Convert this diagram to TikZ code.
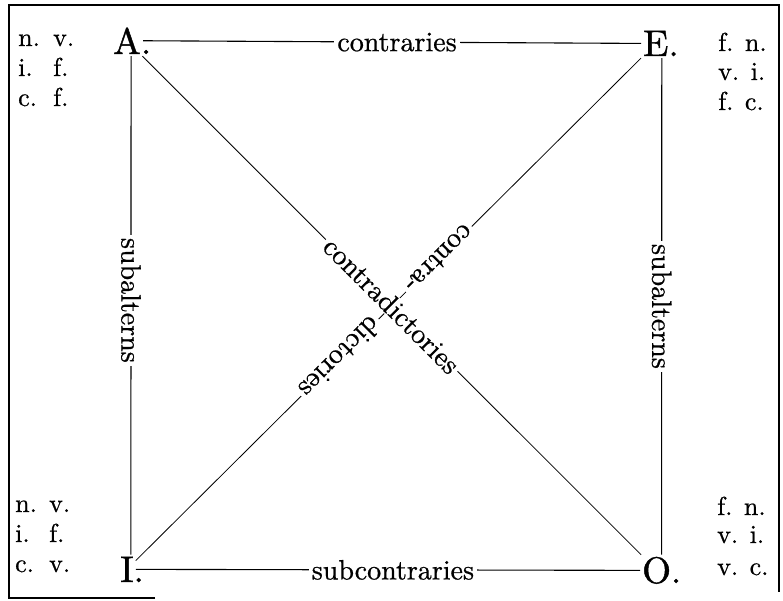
\documentclass[tikz,border=0pt]{standalone}
\usepackage{fontspec}
\newfontfamily\lmten{lmroman10-regular.otf}[FakeBold=0.7]
\newfontfamily\lmbig{lmroman10-regular.otf}[FakeBold=1.2]
\begin{document}
\begin{tikzpicture}[x=1pt,y=-1pt,
  big/.style={font=\lmbig\fontsize{37}{40}\selectfont, anchor=base west, inner sep=2pt},
  side/.style={font=\lmten\fontsize{26}{30}\selectfont, anchor=base west, inner sep=0pt},
  lbl/.style={font=\lmten\fontsize{28}{30}\selectfont, fill=white, inner xsep=3pt, inner ysep=1pt},
  edge/.style={line width=1.1pt},
  diag/.style={line width=0.8pt}]
\useasboundingbox (0,0) rectangle (783,601);
% frame
\draw[line width=1.1pt] (155,598) -- (9,598) -- (9,5) -- (779,5) -- (779,592);
% corner letters
\node[big] (A) at (111,54) {A\rlap{.}};
\node[big] (E) at (641,56) {E\rlap{.}};
\node[big] (I) at (118,582) {I\rlap{.}};
\node[big] (O) at (640,583) {O\rlap{.}};
% side texts
\node[side] (tl1) at (18,46) {\makebox[35pt][l]{n.}v.};
\node[side] (tl2) at (18,76) {\makebox[35pt][l]{i.}f.};
\node[side] (tl3) at (18,106) {\makebox[35pt][l]{c.}f.};
\node[side] (tr1) at (718,51) {f. n.};
\node[side] (tr2) at (718,80) {v. i.};
\node[side] (tr3) at (718,110) {f. c.};
\node[side] (bl1) at (15,512) {\makebox[34pt][l]{n.}v.};
\node[side] (bl2) at (15,542) {\makebox[34pt][l]{i.}f.};
\node[side] (bl3) at (15,572) {\makebox[34pt][l]{c.}v.};
\node[side] (br1) at (717,515) {f. n.};
\node[side] (br2) at (717,543) {v. i.};
\node[side] (br3) at (717,575) {v. c.};
% connectors
\draw[edge] (A.east) -- (E.west) node[lbl, pos=0.51] (contr) {contraries};
\draw[edge] (I.east) -- (O.west) node[lbl, pos=0.51] (subc) {subcontraries};
\draw[edge] ([xshift=4pt]A.south) -- ([xshift=4pt]I.north) node[lbl, pos=0.49, rotate=-90] (subl) {subalterns};
\draw[edge] ([xshift=6pt]E.south) -- ([xshift=5pt]O.north) node[lbl, pos=0.5, rotate=-90] (subr) {subalterns};
\draw[diag] (E) -- (I)
  node[lbl, pos=0.40, rotate=225] (ca) {contra-}
  node[lbl, pos=0.596, rotate=225] (cb) {dictories};
\draw[diag] (A) -- (O) node[lbl, pos=0.5, rotate=-45] (cd) {contradictories};
\end{tikzpicture}
\end{document}
